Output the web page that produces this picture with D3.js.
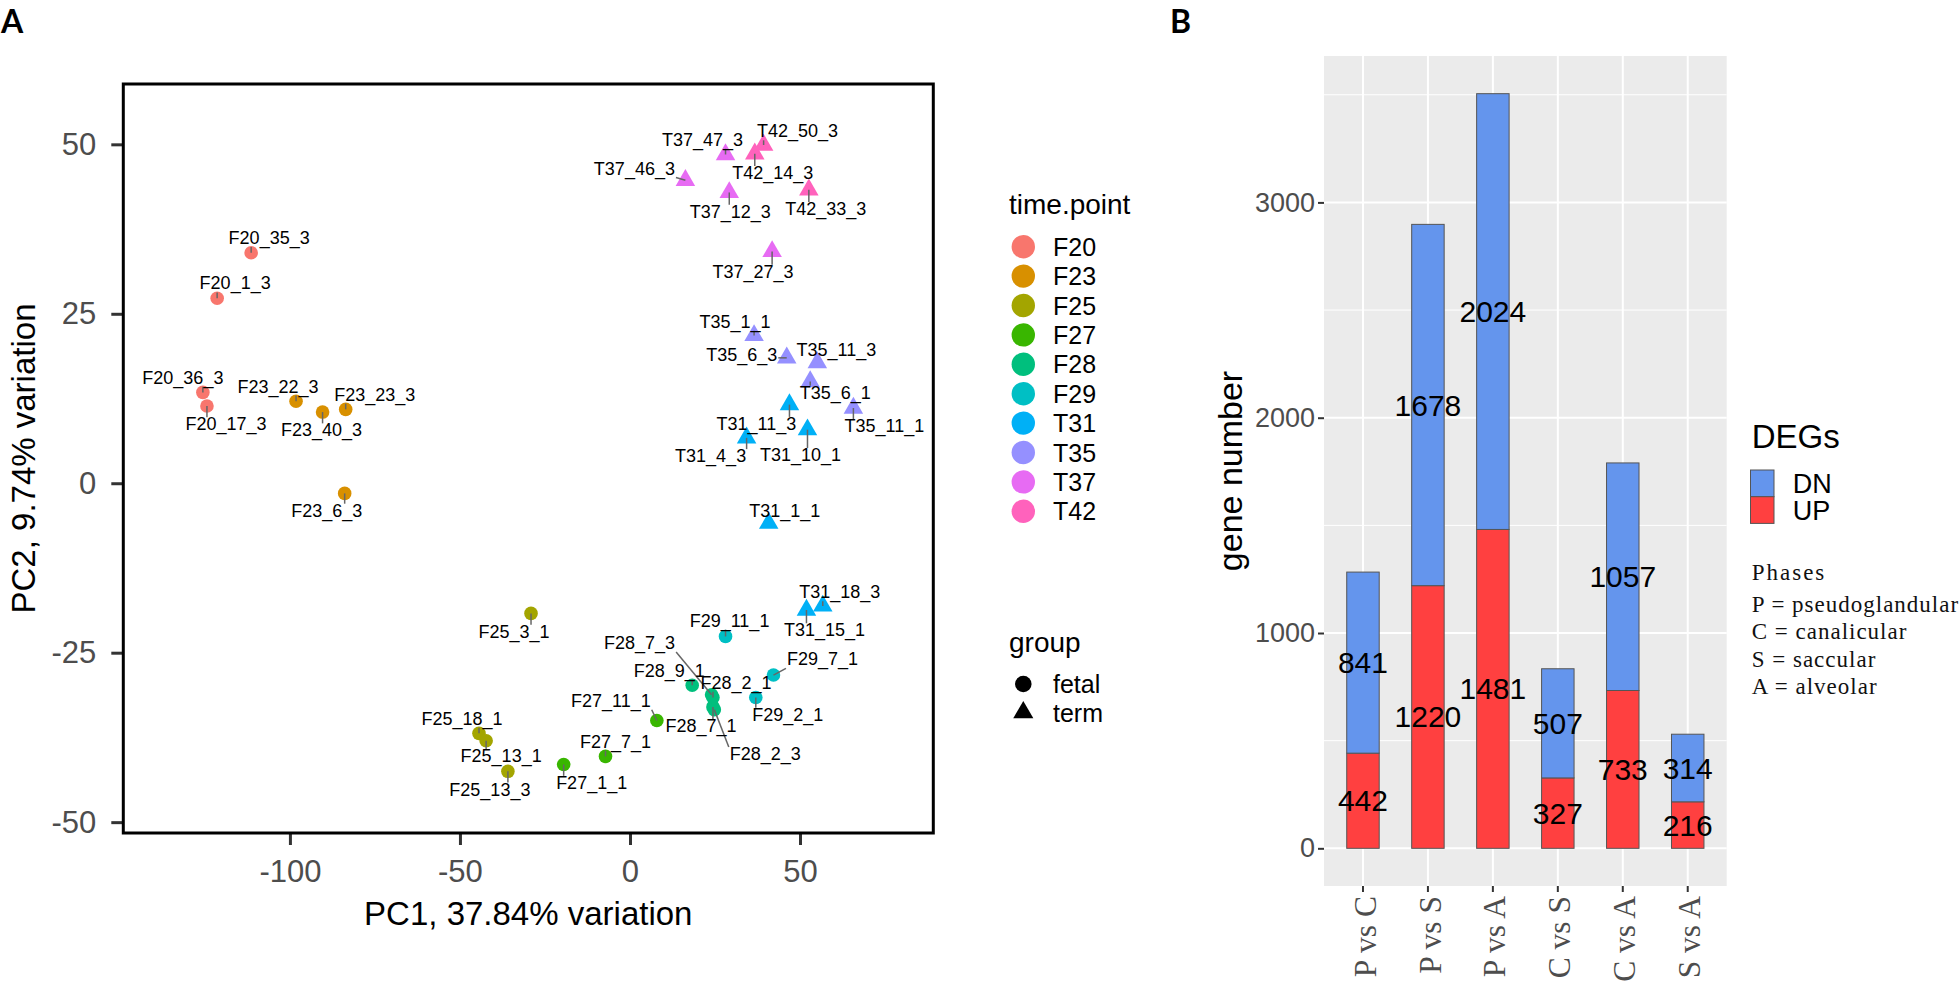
<!DOCTYPE html>
<html><head><meta charset="utf-8">
<script src="https://cdn.jsdelivr.net/npm/d3@7"></script>
<style>
body{margin:0;background:#fff}
svg{display:block;font-family:Arial,"Liberation Sans",sans-serif}
</style>
</head><body>
<svg id="c" width="1960" height="982"></svg>
<script>
// ---------------- DATA ----------------
const timePoints = ["F20","F23","F25","F27","F28","F29","T31","T35","T37","T42"];
const timeColors = ["#F8766D","#D89000","#A3A500","#39B600","#00BF7D","#00BFC4","#00B0F6","#9590FF","#E76BF3","#FF62BC"];
const groups = ["fetal","term"];

const sampleNames = ["F20_35_3","F20_1_3","F20_36_3","F20_17_3","F23_22_3","F23_40_3","F23_23_3","F23_6_3",
  "F25_3_1","F25_18_1","F25_13_1","F25_13_3","F27_1_1","F27_7_1","F27_11_1",
  "F28_9_1","F28_7_3","F28_2_1","F28_7_1","F28_2_3","F29_11_1","F29_7_1","F29_2_1",
  "T31_1_1","T31_18_3","T31_15_1","T31_11_3","T31_4_3","T31_10_1",
  "T35_1_1","T35_6_3","T35_11_3","T35_6_1","T35_11_1",
  "T37_47_3","T37_46_3","T37_12_3","T37_27_3","T42_50_3","T42_14_3","T42_33_3"];
const pc1 = [-111.4,-121.4,-125.6,-124.4,-98.2,-90.4,-83.6,-83.9,
  -29.1,-44.4,-42.3,-35.9,-19.5,-7.2,7.9,
  18.3,24.0,24.4,24.4,24.8,28.1,42.2,37.0,
  40.8,56.7,51.9,46.9,34.3,52.2,
  36.5,46.1,55.1,53.0,65.7,
  28.1,16.3,29.2,41.8,39.3,36.7,52.6];
const pc2 = [34.0,27.3,13.4,11.4,12.1,10.5,10.9,-1.5,
  -19.2,-36.9,-38.0,-42.5,-41.5,-40.3,-35.0,
  -29.8,-31.2,-31.6,-33.0,-33.4,-22.6,-28.3,-31.6,
  -5.9,-18.1,-18.7,11.6,6.7,7.9,
  21.8,18.5,17.8,15.0,11.1,
  48.5,44.7,42.9,34.2,49.9,48.6,43.3];
const xTicksA = [-100,-50,0,50];
const yTicksA = [-50,-25,0,25,50];

const comparisons = ["P vs C","P vs S","P vs A","C vs S","C vs A","S vs A"];
const upValues = [442,1220,1481,327,733,216];
const dnValues = [841,1678,2024,507,1057,314];
const yTicksB = [0,1000,2000,3000];
const degLevels = ["DN","UP"];
const degColors = ["#6495ED","#FF4040"];
const phaseLines = ["Phases","P = pseudoglandular","C = canalicular","S = saccular","A = alveolar"];

// ---------------- LAYOUT (label placement, px offsets from point) ----------------
const labelNudge = [[18,-15],[18,-15],[-20,-15],[19,18],[-18,-15],[-1,18],[29,-15],[-18,17],
  [-17,18],[-17,-15],[15,15],[-18,18],[28,18],[10,-15],[-46,-20],
  [-23,-15],[-72,-52],[23,-15],[-12,19],[51,44],[4,-16],[49,-16],[32,17],
  [16,-13],[17,-14],[18,20],[-33,19],[-36,18],[-7,25],
  [-19,-14],[-45,-3],[19,-13],[25,11],[31,18],
  [-23,-15],[-51,-12],[1,19],[-19,20],[34,-14],[18,19],[17,19]];

const SANS = "Arial, 'Liberation Sans', sans-serif";
const SERIF = "'Liberation Serif', 'Times New Roman', serif";
const fmt = d => String(d);
const svg = d3.select("#c");

// ================= PANEL A =================
const A = {l:123.3, r:933.3, t:84, b:833};
const xA = d3.scaleLinear().domain([-149, 89.2]).range([A.l, A.r]);
const yA = d3.scaleLinear().domain([-51.6, 58.9]).range([A.b, A.t]);
const colorA = d3.scaleOrdinal().domain(timePoints).range(timeColors);

svg.append("text").attr("x",1).attr("y",33).attr("font-family","Lato, 'Open Sans', Arial")
  .attr("font-weight",700).attr("font-size",32).text("A");

const gA = svg.append("g");
const axL = gA.append("g").attr("transform",`translate(${A.l},0)`)
  .call(d3.axisLeft(yA).tickValues(yTicksA).tickFormat(fmt).tickSize(12).tickPadding(15));
const axB = gA.append("g").attr("transform",`translate(0,${A.b})`)
  .call(d3.axisBottom(xA).tickValues(xTicksA).tickFormat(fmt).tickSize(12).tickPadding(15));
[axL, axB].forEach(ax=>{
  ax.select(".domain").remove();
  ax.selectAll(".tick line").attr("stroke","#333").attr("stroke-width",3);
  ax.selectAll(".tick text").attr("fill","#4D4D4D").attr("font-size",31).attr("font-family",SANS);
});
gA.append("rect").attr("x",A.l).attr("y",A.t).attr("width",A.r-A.l).attr("height",A.b-A.t)
  .attr("fill","none").attr("stroke","#000").attr("stroke-width",3);

gA.append("text").attr("x",(A.l+A.r)/2).attr("y",925).attr("text-anchor","middle")
  .attr("font-size",33).text("PC1, 37.84% variation");
gA.append("text").attr("transform",`translate(35,${(A.t+A.b)/2}) rotate(-90)`)
  .attr("text-anchor","middle").attr("font-size",33).text("PC2, 9.74% variation");

const samples = sampleNames.map((n,i)=>({name:n, tp:n.split("_")[0], grp: n[0]==="F"?"fetal":"term",
  x:pc1[i], y:pc2[i], nd:labelNudge[i]}));

const triSym = d3.symbol().type(d3.symbolTriangle).size(165);
const ptG = gA.append("g");
samples.forEach(s=>{
  const px = xA(s.x), py = yA(s.y);
  if (s.grp==="fetal") ptG.append("circle").attr("cx",px).attr("cy",py).attr("r",6.8).attr("fill",colorA(s.tp));
  else ptG.append("path").attr("d",triSym()).attr("transform",`translate(${px},${py})`).attr("fill",colorA(s.tp));
});
const segG = gA.append("g");
const labG = gA.append("g");
samples.forEach(s=>{
  const px = xA(s.x), py = yA(s.y);
  const lx = px + s.nd[0], ly = py + s.nd[1];
  const t = labG.append("text").attr("x",lx).attr("y",ly).attr("dy","0.35em")
    .attr("text-anchor","middle").attr("font-size",18).attr("fill","#000").text(s.name);
  const bb = t.node().getBBox();
  const x0 = bb.x-1, x1 = bb.x+bb.width+1, y0 = bb.y+3, y1 = bb.y+bb.height-2;
  const nx = Math.max(x0, Math.min(px, x1)), ny = Math.max(y0, Math.min(py, y1));
  const d = Math.hypot(nx-px, ny-py);
  if (d > 4) {
    segG.append("line").attr("x1",px).attr("y1",py).attr("x2",nx).attr("y2",ny)
      .attr("stroke","#666").attr("stroke-width",1.5);
  }
});

// legends A
svg.append("text").attr("x",1009).attr("y",214).attr("font-size",28).text("time.point");
const legT = svg.append("g");
timePoints.forEach((tp,i)=>{
  const cy = 246.7 + i*29.4;
  legT.append("circle").attr("cx",1023.3).attr("cy",cy).attr("r",11.7).attr("fill",colorA(tp));
  legT.append("text").attr("x",1053).attr("y",cy+9).attr("font-size",25).text(tp);
});
svg.append("text").attr("x",1009).attr("y",652).attr("font-size",28).text("group");
groups.forEach((g,i)=>{
  const cy = 684 + i*28.5;
  if (g==="fetal") svg.append("circle").attr("cx",1023.3).attr("cy",cy).attr("r",8.3).attr("fill","#000");
  else svg.append("path").attr("d",d3.symbol().type(d3.symbolTriangle).size(175)()).attr("transform",`translate(1023.3,${cy})`).attr("fill","#000");
  svg.append("text").attr("x",1053).attr("y",cy+9).attr("font-size",25).text(g);
});

// ================= PANEL B =================
const B = {l:1324, r:1726.7, t:56, b:886};
const xB = d3.scaleBand().domain(comparisons).range([B.l, B.r]).paddingInner(0).paddingOuter(0.1);
const yB = d3.scaleLinear().domain([-175, 3680]).range([B.b, B.t]);
const step = xB.step();

svg.append("text").attr("x",1170).attr("y",33).attr("font-family","Lato, 'Open Sans', Arial")
  .attr("font-weight",700).attr("font-size",32).text("B");

const gB = svg.append("g");
gB.append("rect").attr("x",B.l).attr("y",B.t).attr("width",B.r-B.l).attr("height",B.b-B.t).attr("fill","#EBEBEB");
const minorB = [500,1500,2500,3500];
gB.selectAll(".mn").data(minorB).join("line").attr("x1",B.l).attr("x2",B.r)
  .attr("y1",d=>yB(d)).attr("y2",d=>yB(d)).attr("stroke","#fff").attr("stroke-width",1);
gB.selectAll(".mj").data(yTicksB).join("line").attr("x1",B.l).attr("x2",B.r)
  .attr("y1",d=>yB(d)).attr("y2",d=>yB(d)).attr("stroke","#fff").attr("stroke-width",2);
gB.selectAll(".vj").data(comparisons).join("line")
  .attr("x1",d=>xB(d)+step/2).attr("x2",d=>xB(d)+step/2).attr("y1",B.t).attr("y2",B.b)
  .attr("stroke","#fff").attr("stroke-width",2);

const barW = step*0.5;
comparisons.forEach((c,i)=>{
  const bx = xB(c)+step/2-barW/2;
  gB.append("rect").attr("x",bx).attr("width",barW).attr("y",yB(upValues[i])).attr("height",yB(0)-yB(upValues[i]))
    .attr("fill",degColors[1]).attr("stroke","#555").attr("stroke-width",1);
  gB.append("rect").attr("x",bx).attr("width",barW).attr("y",yB(upValues[i]+dnValues[i]))
    .attr("height",yB(upValues[i])-yB(upValues[i]+dnValues[i]))
    .attr("fill",degColors[0]).attr("stroke","#555").attr("stroke-width",1);
});
comparisons.forEach((c,i)=>{
  const cx = xB(c)+step/2;
  gB.append("text").attr("x",cx).attr("y",yB(upValues[i]/2)).attr("dy","0.35em").attr("text-anchor","middle")
    .attr("font-size",30).text(upValues[i]);
  gB.append("text").attr("x",cx).attr("y",yB(upValues[i]+dnValues[i]/2)).attr("dy","0.35em").attr("text-anchor","middle")
    .attr("font-size",30).text(dnValues[i]);
});

const ayB = gB.append("g").attr("transform",`translate(${B.l},0)`)
  .call(d3.axisLeft(yB).tickValues(yTicksB).tickFormat(fmt).tickSize(6).tickPadding(3));
ayB.select(".domain").remove();
ayB.selectAll(".tick line").attr("stroke","#333").attr("stroke-width",2);
ayB.selectAll(".tick text").attr("fill","#4D4D4D").attr("font-size",27).attr("font-family",SANS);

gB.selectAll(".xt").data(comparisons).join("line")
  .attr("x1",d=>xB(d)+step/2).attr("x2",d=>xB(d)+step/2).attr("y1",B.b).attr("y2",B.b+6)
  .attr("stroke","#333").attr("stroke-width",2);
gB.selectAll(".xl").data(comparisons).join("text")
  .attr("transform",d=>`translate(${xB(d)+step/2},${B.b+10}) rotate(-90)`)
  .attr("text-anchor","end").attr("dy","0.4em").attr("font-size",31.5)
  .attr("font-family",SERIF).attr("fill","#4D4D4D").text(d=>d);

gB.append("text").attr("transform",`translate(1241.7,${(B.t+B.b)/2}) rotate(-90)`)
  .attr("text-anchor","middle").attr("font-size",34).text("gene number");

// legend B
svg.append("text").attr("x",1751.7).attr("y",448.3).attr("font-size",33).text("DEGs");
degLevels.forEach((d,i)=>{
  const ky = 470 + i*26.7;
  svg.append("rect").attr("x",1750.5).attr("y",ky).attr("width",23.5).attr("height",26.7)
    .attr("fill",degColors[i]).attr("stroke","#555").attr("stroke-width",1);
  svg.append("text").attr("x",1792.7).attr("y",ky+23.3).attr("font-size",27).text(d);
});
phaseLines.forEach((t,i)=>{
  svg.append("text").attr("x",1751.7).attr("y", i===0 ? 580 : 611.7 + (i-1)*27.5)
    .attr("font-family",SERIF).attr("font-size",23)
    .attr("letter-spacing", i===0 ? 2 : 1).attr("fill","#111").text(t);
});
</script>
</body></html>
